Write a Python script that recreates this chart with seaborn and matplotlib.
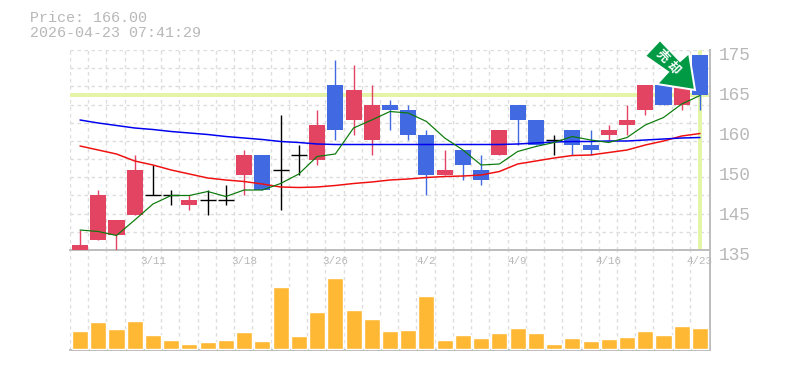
#!/usr/bin/env python3
"""Candlestick chart with moving averages and a volume panel."""

import matplotlib

matplotlib.use("Agg")
import matplotlib.pyplot as plt
import numpy as np
import pandas as pd
import seaborn as sns
from matplotlib.patches import Polygon
from matplotlib.transforms import ScaledTranslation

W, H = 785, 370
X_LO, X_HI = -0.55, 34.55
Y_LO, Y_HI = 135, 175

day = list(range(35))
opens = [135, 137, 138, 142, 146, 146, 144, 145, 145, 150, 154, 151, 154, 153, 168, 161, 157, 164, 163,
         158, 150, 155, 151, 154, 164, 161, 157, 159, 156, 158, 160, 163, 168, 164, 174]
closes = [136, 146, 141, 151, 146, 146, 145, 145, 145, 154, 147, 151, 154, 160, 159, 167, 164, 163, 158,
          150, 151, 152, 149, 159, 161, 156, 157, 156, 155, 159, 161, 168, 164, 168, 166]
highs = [139, 147, 141, 154, 152, 147, 146, 147, 148, 155, 154, 162, 156, 163, 173, 172, 168, 165, 164,
         159, 155, 155, 154, 159, 164, 161, 158, 159, 159, 160, 164, 168, 168, 168, 174]
lows = [135, 137, 135, 142, 146, 144, 143, 142, 144, 146, 147, 143, 150, 152, 157, 158, 154, 159, 157,
        146, 150, 149, 148, 154, 156, 156, 154, 154, 154, 157, 158, 162, 164, 163, 163]
ma_short = [139, 138.7, 137.9, 141, 144.2, 145.9, 145.9, 146.7, 145.7, 147, 147, 148.3, 150.2, 153.7, 154.2,
            159.4, 161, 162.7, 162.4, 160.7, 157.4, 155, 152, 152.2, 154.7, 155.7, 156.5, 157.7, 157, 156.5,
            157.5, 160, 161.5, 164.2, 165.9]
ma_mid = [161, 160.4, 159.9, 159.4, 159.1, 158.7, 158.4, 158.1, 157.7, 157.4, 157.1, 156.7, 156.5, 156.2, 156.1,
          156.1, 156.1, 156.1, 156.1, 156.1, 156.1, 156.1, 156.1, 156.1, 156.2, 156.4, 156.6, 156.7, 156.7, 156.8,
          156.8, 157, 157.2, 157.4, 157.5]
ma_long = [155.8, 155, 154.2, 152.8, 152, 151, 150.2, 149.4, 149, 148.7, 148.2, 147.6, 147.5, 147.6, 147.9,
           148.3, 148.6, 149, 149.2, 149.5, 149.7, 149.8, 150, 150.7, 152.2, 152.8, 153.4, 153.9, 154, 154.5,
           155, 156, 156.8, 157.8, 158.3]
volume = [18, 27, 20, 28, 14, 9, 5, 7, 9, 17, 8, 62, 13, 37, 71, 39, 30, 18, 19, 53, 9, 14, 11, 16, 21, 16, 5,
          11, 8, 10, 12, 18, 14, 23, 21]
date_ticks = [4, 9, 14, 19, 24, 29, 34]
date_labels = ["3/11", "3/18", "3/26", "4/2", "4/9", "4/16", "4/23"]
price_labels = ["135", "145", "150", "160", "165", "175"]
last_price = 166.00
stamp = "2026-04-23 07:41:29"

RED = "#E24462"
BLUE = "#4169E1"
GRID = "#DDDDDD"
AXIS = "#BEBEBE"
TEXT = "#B8B8B8"
MARK = "#E4F5A8"
PX = 0.72  # one pixel in points at dpi 100

sns.set_theme(style="white")
plt.rcParams["font.family"] = ["Liberation Mono", "Noto Sans CJK JP", "DejaVu Sans"]

df = pd.DataFrame({"day": day, "open": opens, "close": closes, "high": highs, "low": lows,
                   "ma_short": ma_short, "ma_mid": ma_mid, "ma_long": ma_long, "volume": volume})

fig = plt.figure(figsize=(W / 100, H / 100), dpi=100, facecolor="white")
ax = fig.add_axes([70 / W, 1 - 250 / H, 640 / W, 200 / H], zorder=2)
vol = fig.add_axes([70 / W, 1 - 350 / H, 640 / W, 100 / H], zorder=1)
ax.patch.set_alpha(0)

# grids
vgrid = np.arange(0, 35) + X_LO
hgrid = np.linspace(Y_LO, Y_HI, 12)
for a in (ax, vol):
    a.vlines(vgrid, 0, 1, transform=a.get_xaxis_transform(), color=GRID, lw=1.4 * PX,
             linestyles=(0, (2.5, 2.5)), zorder=0)
ax.hlines(hgrid, 0, 1, transform=ax.get_yaxis_transform(), color=GRID, lw=1.4 * PX,
          linestyles=(0, (2.5, 2.5)), zorder=0)

# last price markers
ax.axhline(last_price, color=MARK, lw=4 * PX, zorder=1)
ax.axvline(day[-1], color=MARK, lw=4 * PX, ymin=0, ymax=0.99, zorder=1)

# candles
for _, r in df.iterrows():
    if r["open"] == r["close"]:
        c = "black"
        ax.hlines(r["close"], r["day"] - 0.44, r["day"] + 0.44, color=c, lw=1.4 * PX, zorder=4)
    else:
        c = RED if r["close"] > r["open"] else BLUE
        ax.bar(r["day"], abs(r["close"] - r["open"]), bottom=min(r["open"], r["close"]), width=0.88,
               color=c, linewidth=0, zorder=4)
    ax.vlines(r["day"], r["low"], r["high"], color=c, lw=1.4 * PX, zorder=3)

# moving averages
sns.lineplot(data=df, x="day", y="ma_long", color="#F01010", lw=1.5 * PX, ax=ax, zorder=5)
sns.lineplot(data=df, x="day", y="ma_mid", color="#0000F0", lw=1.5 * PX, ax=ax, zorder=5)
sns.lineplot(data=df, x="day", y="ma_short", color="#0A7A0A", lw=1.2 * PX, ax=ax, zorder=5)

ax.set_xlim(X_LO, X_HI)
ax.set_ylim(Y_LO, Y_HI)
ax.set_xlabel("")
ax.set_ylabel("")
ax.set_xticks(date_ticks, date_labels, fontsize=7.8, color=TEXT)
ax.set_yticks(np.linspace(Y_LO, Y_HI, 6), price_labels, fontsize=12.8, color=TEXT)
ax.yaxis.tick_right()
ax.tick_params(axis="both", length=0)
ax.tick_params(axis="x", pad=4.5)
ax.tick_params(axis="y", pad=6)
drop = ScaledTranslation(0, -3 / 100, fig.dpi_scale_trans)
for lab in ax.get_yticklabels():
    lab.set_transform(lab.get_transform() + drop)
for name, spine in ax.spines.items():
    spine.set_visible(name in ("bottom", "right"))
    spine.set_color(AXIS)
    spine.set_linewidth(2 * PX)

# volume panel
sns.barplot(data=df, x="day", y="volume", color="#FFB833", saturation=1, width=0.88, ax=vol, zorder=3,
            order=day)
vol.set_xlim(X_LO, X_HI)
vol.set_ylim(-1.5, 98.5)
vol.set_xticks([])
vol.set_yticks([])
vol.set_xlabel("")
vol.set_ylabel("")
for name, spine in vol.spines.items():
    spine.set_visible(name in ("bottom", "right"))
    spine.set_color(AXIS)
    spine.set_linewidth(2 * PX)

# signal arrow, anchored in pixels on the last candle
to_fig = lambda pts: [(x / W, 1 - y / H) for x, y in pts]
arrow = [(660, 40), (645, 56), (668, 72), (657, 84), (695, 90), (689, 53), (680, 61)]
fig.add_artist(Polygon(to_fig(arrow), closed=True, transform=fig.transFigure, facecolor="#009944",
                       edgecolor="white", lw=2 * PX, joinstyle="miter", zorder=6))
for (x, y), ch in zip([(662, 56), (673, 68)], "売却"):
    fig.text(x / W, 1 - y / H, ch, color="white", fontsize=9, fontweight="bold", rotation=-45,
             ha="center", va="center", rotation_mode="anchor", zorder=7,
             family=["Noto Sans CJK JP", "DejaVu Sans"])

# header
fig.text(30 / W, 1 - 18 / H, f"Price: {last_price:.2f}", color=TEXT, fontsize=10.8, va="center", ha="left")
fig.text(30 / W, 1 - 33 / H, stamp, color=TEXT, fontsize=10.8, va="center", ha="left")

fig.savefig("out.png", dpi=100, facecolor="white")
